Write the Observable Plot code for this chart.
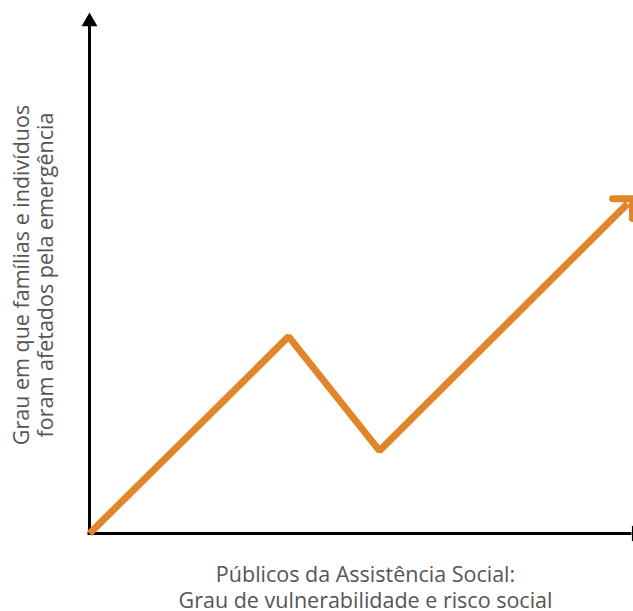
<!DOCTYPE html>
<html>
<head>
<meta charset="utf-8">
<script src="https://cdn.jsdelivr.net/npm/d3@7"></script>
<script src="https://cdn.jsdelivr.net/npm/@observablehq/plot@0.6"></script>
<style>
  html, body { margin: 0; padding: 0; background: #fff; overflow: hidden; }
  #chart svg { display: block; }
</style>
</head>
<body>
<div id="chart"></div>
<script>
// Data (schematic units 0–100)
const stages = ["início", "pico", "vale", "fim"];
const xValues = [0, 36.6, 53.3, 98.9];
const yValues = [0, 37.8, 15.9, 63.3];
const yLabelLines = ["Grau em que famílias e indivíduos", "foram afetados pela emergência"];
const xLabelLines = ["Públicos da Assistência Social:", "Grau de vulnerabilidade e risco social"];
const axisMin = 0;
const axisMax = 100;
const yAxisTop = 98;

const series = stages.map((s, i) => ({stage: s, x: xValues[i], y: yValues[i]}));

const textFont = "'Open Sans', sans-serif";

const chart = Plot.plot({
  width: 633,
  height: 611,
  marginLeft: 89,
  marginRight: 0,
  marginTop: 12,
  marginBottom: 78,
  style: {background: "#fff", fontFamily: textFont},
  x: {domain: [axisMin, axisMax], axis: null},
  y: {domain: [axisMin, axisMax], axis: null},
  marks: [
    // axes
    Plot.ruleX([axisMin], {y1: axisMin, y2: yAxisTop, stroke: "#000", strokeWidth: 3}),
    Plot.ruleY([axisMin], {x1: axisMin, x2: axisMax, stroke: "#000", strokeWidth: 3, dx: -1.5}),
    Plot.dot([{x: axisMin, y: axisMax}], {x: "x", y: "y", symbol: "triangle", r: 5.9, fill: "#000", stroke: null, dy: 9.2}),
    Plot.dot([{x: axisMax, y: axisMin}], {x: "x", y: "y", symbol: "triangle", r: 5.9, fill: "#000", stroke: null, rotate: 90, dx: 3}),
    // orange line
    Plot.line(series, {
      x: "x", y: "y",
      stroke: "#E0852A", strokeWidth: 7,
      strokeLinejoin: "miter", strokeLinecap: "butt",
      markerEnd: "arrow"
    }),
    // axis labels
    Plot.text([yLabelLines.join("\n")], {
      frameAnchor: "left", rotate: -90, dx: -56, dy: 2,
      textAnchor: "middle", lineAnchor: "middle", lineHeight: 1.1,
      fontSize: 21.5, fill: "#555", fontFamily: textFont
    }),
    Plot.text([xLabelLines.join("\n")], {
      frameAnchor: "bottom", dx: 4, dy: 53,
      textAnchor: "middle", lineAnchor: "middle", lineHeight: 1.2,
      fontSize: 21.5, fill: "#555", fontFamily: textFont
    })
  ]
});
document.getElementById("chart").append(chart);
</script>
</body>
</html>
